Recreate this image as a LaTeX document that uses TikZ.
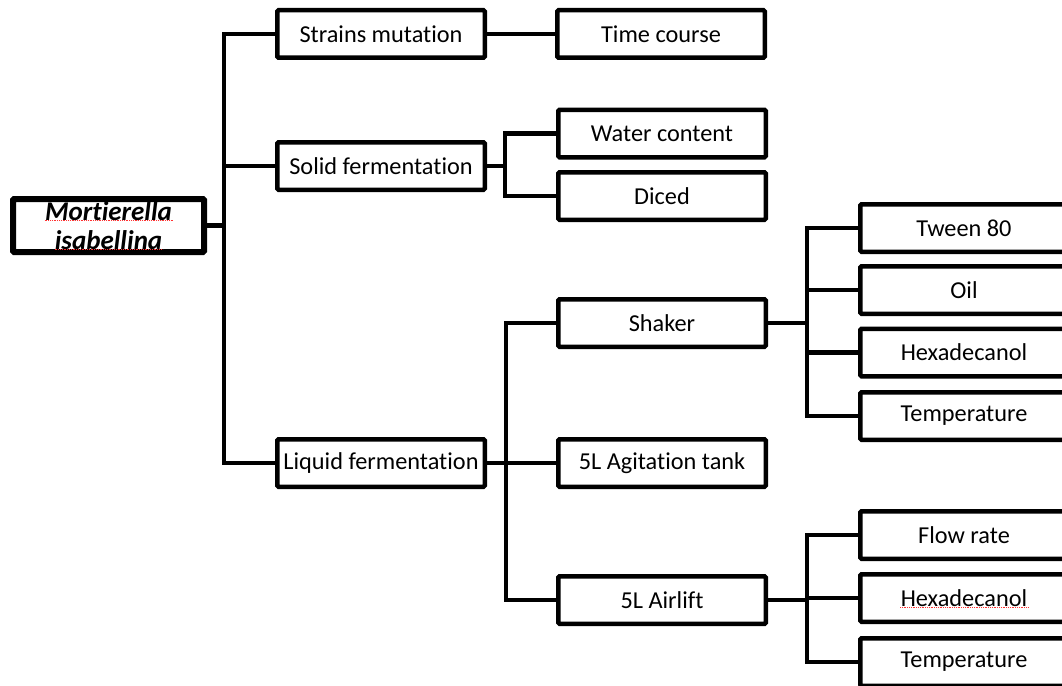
\documentclass[tikz,border=0pt]{standalone}
\usepackage{fontspec}
\setmainfont{Carlito}[Ligatures=NoCommon]
\begin{document}
\begin{tikzpicture}[x=1pt,y=-1pt,
  box/.style={draw=black,line width=4.5pt,rounded corners=1.2pt,minimum width=207.5pt,minimum height=47.5pt,inner sep=0pt,outer sep=0pt,font=\fontsize{24.3}{28}\selectfont},
  rootbox/.style={box,line width=6pt,minimum width=191pt,minimum height=53pt,align=center,font=\fontsize{27}{28.5}\selectfont\bfseries\itshape},
  conn/.style={line width=4.8pt,line join=miter},
  squig/.style={red!80,line width=0.8pt,densely dotted}]
\useasboundingbox (0,0) rectangle (1062,685);
\clip (0,0) rectangle (1062,685);
\fill[white] (0,0) rectangle (1062,685);
% nodes
\node[rootbox] (root) at (108.5,225.5) {Mortierella\\isabellina};
\node[box] (strains) at (381,34) {Strains mutation};
\node[box] (time) at (661,34) {Time course};
\node[box] (solid) at (381,166) {Solid fermentation};
\node[box] (water) at (662,133.5) {Water content};
\node[box] (diced) at (662,196) {Diced};
\node[box] (liquid) at (381,463) {Liquid fermentation};
\node[box] (shaker) at (662,323) {Shaker};
\node[box] (agit) at (662,463) {5L Agitation tank};
\node[box] (airlift) at (662,600) {5L Airlift};
\node[box] (tween) at (964,228) {Tween 80};
\node[box] (oil) at (964,290) {Oil};
\node[box] (hexa) at (964,352.5) {Hexadecanol};
\node[box] (temp) at (964,416) {Temperature};
\node[box] (flow) at (964,535) {Flow rate};
\node[box] (hexb) at (964,598) {Hexadecanol};
\node[box] (tempb) at (964,662) {Temperature};
% coordinates of the vertical trunks
\coordinate (t1) at (224,0);
\coordinate (t2) at (505,0);
\coordinate (t3) at (506,0);
\coordinate (t4) at (807,0);
% connectors
\draw[conn] (root.east) -- (root.east -| t1);
\draw[conn] (strains.west) -| (liquid.west -| t1) -- (liquid.west);
\draw[conn] (solid.west) -- (solid.west -| t1);
\draw[conn] (strains.east) -- (time.west);
\draw[conn] (solid.east) -- (solid.east -| t2);
\draw[conn] (water.west) -| (diced.west -| t2) -- (diced.west);
\draw[conn] (liquid.east) -- (agit.west);
\draw[conn] (shaker.west) -| (airlift.west -| t3) -- (airlift.west);
\draw[conn] (shaker.east) -- (shaker.east -| t4);
\draw[conn] (tween.west) -| (temp.west -| t4) -- (temp.west);
\draw[conn] (oil.west) -- (oil.west -| t4);
\draw[conn] (hexa.west) -- (hexa.west -| t4);
\draw[conn] (airlift.east) -- (airlift.east -| t4);
\draw[conn] (flow.west) -| (tempb.west -| t4) -- (tempb.west);
\draw[conn] (hexb.west) -- (hexb.west -| t4);
% spell-check squiggles printed in the picture
\draw[squig] ([xshift=-64pt,yshift=5pt]root.center) -- ([xshift=64pt,yshift=5pt]root.center);
\draw[squig] ([xshift=-54pt,yshift=-24pt]root.center) -- ([xshift=54pt,yshift=-24pt]root.center);
\draw[squig] ([xshift=-64pt,yshift=-9pt]hexb.center) -- ([xshift=64pt,yshift=-9pt]hexb.center);
\end{tikzpicture}
\end{document}
